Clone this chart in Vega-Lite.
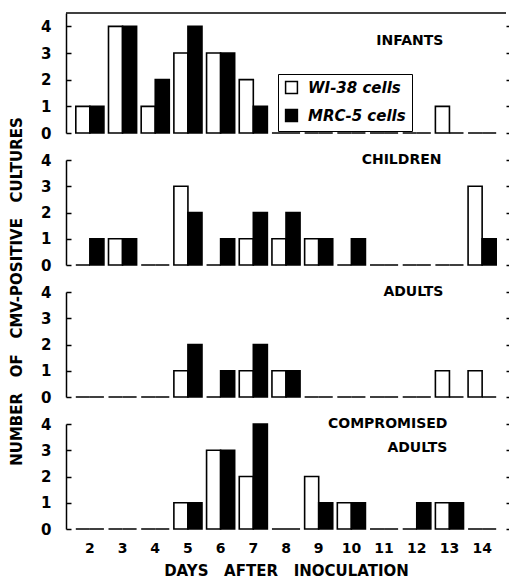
{
  "$schema": "https://vega.github.io/schema/vega-lite/v6.json",
  "padding": {"top": 12, "left": 8, "right": 0, "bottom": 2},
  "bounds": "flush",
  "spacing": 27,
  "config": {
    "font": "DejaVu Sans",
    "view": {"stroke": null},
    "axis": {"grid": false, "domainColor": "black", "tickColor": "black", "labelColor": "black", "titleColor": "black", "domainWidth": 1.5, "tickWidth": 1.5}
  },
  "datasets": {
    "cmv": [
      {"group": "Infants", "day": 2, "cell": "WI-38", "n": 1}, {"group": "Infants", "day": 2, "cell": "MRC-5", "n": 1},
      {"group": "Infants", "day": 3, "cell": "WI-38", "n": 4}, {"group": "Infants", "day": 3, "cell": "MRC-5", "n": 4},
      {"group": "Infants", "day": 4, "cell": "WI-38", "n": 1}, {"group": "Infants", "day": 4, "cell": "MRC-5", "n": 2},
      {"group": "Infants", "day": 5, "cell": "WI-38", "n": 3}, {"group": "Infants", "day": 5, "cell": "MRC-5", "n": 4},
      {"group": "Infants", "day": 6, "cell": "WI-38", "n": 3}, {"group": "Infants", "day": 6, "cell": "MRC-5", "n": 3},
      {"group": "Infants", "day": 7, "cell": "WI-38", "n": 2}, {"group": "Infants", "day": 7, "cell": "MRC-5", "n": 1},
      {"group": "Infants", "day": 8, "cell": "WI-38", "n": 0}, {"group": "Infants", "day": 8, "cell": "MRC-5", "n": 0},
      {"group": "Infants", "day": 9, "cell": "WI-38", "n": 0}, {"group": "Infants", "day": 9, "cell": "MRC-5", "n": 0},
      {"group": "Infants", "day": 10, "cell": "WI-38", "n": 0}, {"group": "Infants", "day": 10, "cell": "MRC-5", "n": 0},
      {"group": "Infants", "day": 11, "cell": "WI-38", "n": 0}, {"group": "Infants", "day": 11, "cell": "MRC-5", "n": 0},
      {"group": "Infants", "day": 12, "cell": "WI-38", "n": 0}, {"group": "Infants", "day": 12, "cell": "MRC-5", "n": 0},
      {"group": "Infants", "day": 13, "cell": "WI-38", "n": 1}, {"group": "Infants", "day": 13, "cell": "MRC-5", "n": 0},
      {"group": "Infants", "day": 14, "cell": "WI-38", "n": 0}, {"group": "Infants", "day": 14, "cell": "MRC-5", "n": 0},

      {"group": "Children", "day": 2, "cell": "WI-38", "n": 0}, {"group": "Children", "day": 2, "cell": "MRC-5", "n": 1},
      {"group": "Children", "day": 3, "cell": "WI-38", "n": 1}, {"group": "Children", "day": 3, "cell": "MRC-5", "n": 1},
      {"group": "Children", "day": 4, "cell": "WI-38", "n": 0}, {"group": "Children", "day": 4, "cell": "MRC-5", "n": 0},
      {"group": "Children", "day": 5, "cell": "WI-38", "n": 3}, {"group": "Children", "day": 5, "cell": "MRC-5", "n": 2},
      {"group": "Children", "day": 6, "cell": "WI-38", "n": 0}, {"group": "Children", "day": 6, "cell": "MRC-5", "n": 1},
      {"group": "Children", "day": 7, "cell": "WI-38", "n": 1}, {"group": "Children", "day": 7, "cell": "MRC-5", "n": 2},
      {"group": "Children", "day": 8, "cell": "WI-38", "n": 1}, {"group": "Children", "day": 8, "cell": "MRC-5", "n": 2},
      {"group": "Children", "day": 9, "cell": "WI-38", "n": 1}, {"group": "Children", "day": 9, "cell": "MRC-5", "n": 1},
      {"group": "Children", "day": 10, "cell": "WI-38", "n": 0}, {"group": "Children", "day": 10, "cell": "MRC-5", "n": 1},
      {"group": "Children", "day": 11, "cell": "WI-38", "n": 0}, {"group": "Children", "day": 11, "cell": "MRC-5", "n": 0},
      {"group": "Children", "day": 12, "cell": "WI-38", "n": 0}, {"group": "Children", "day": 12, "cell": "MRC-5", "n": 0},
      {"group": "Children", "day": 13, "cell": "WI-38", "n": 0}, {"group": "Children", "day": 13, "cell": "MRC-5", "n": 0},
      {"group": "Children", "day": 14, "cell": "WI-38", "n": 3}, {"group": "Children", "day": 14, "cell": "MRC-5", "n": 1},

      {"group": "Adults", "day": 2, "cell": "WI-38", "n": 0}, {"group": "Adults", "day": 2, "cell": "MRC-5", "n": 0},
      {"group": "Adults", "day": 3, "cell": "WI-38", "n": 0}, {"group": "Adults", "day": 3, "cell": "MRC-5", "n": 0},
      {"group": "Adults", "day": 4, "cell": "WI-38", "n": 0}, {"group": "Adults", "day": 4, "cell": "MRC-5", "n": 0},
      {"group": "Adults", "day": 5, "cell": "WI-38", "n": 1}, {"group": "Adults", "day": 5, "cell": "MRC-5", "n": 2},
      {"group": "Adults", "day": 6, "cell": "WI-38", "n": 0}, {"group": "Adults", "day": 6, "cell": "MRC-5", "n": 1},
      {"group": "Adults", "day": 7, "cell": "WI-38", "n": 1}, {"group": "Adults", "day": 7, "cell": "MRC-5", "n": 2},
      {"group": "Adults", "day": 8, "cell": "WI-38", "n": 1}, {"group": "Adults", "day": 8, "cell": "MRC-5", "n": 1},
      {"group": "Adults", "day": 9, "cell": "WI-38", "n": 0}, {"group": "Adults", "day": 9, "cell": "MRC-5", "n": 0},
      {"group": "Adults", "day": 10, "cell": "WI-38", "n": 0}, {"group": "Adults", "day": 10, "cell": "MRC-5", "n": 0},
      {"group": "Adults", "day": 11, "cell": "WI-38", "n": 0}, {"group": "Adults", "day": 11, "cell": "MRC-5", "n": 0},
      {"group": "Adults", "day": 12, "cell": "WI-38", "n": 0}, {"group": "Adults", "day": 12, "cell": "MRC-5", "n": 0},
      {"group": "Adults", "day": 13, "cell": "WI-38", "n": 1}, {"group": "Adults", "day": 13, "cell": "MRC-5", "n": 0},
      {"group": "Adults", "day": 14, "cell": "WI-38", "n": 1}, {"group": "Adults", "day": 14, "cell": "MRC-5", "n": 0},

      {"group": "Compromised", "day": 2, "cell": "WI-38", "n": 0}, {"group": "Compromised", "day": 2, "cell": "MRC-5", "n": 0},
      {"group": "Compromised", "day": 3, "cell": "WI-38", "n": 0}, {"group": "Compromised", "day": 3, "cell": "MRC-5", "n": 0},
      {"group": "Compromised", "day": 4, "cell": "WI-38", "n": 0}, {"group": "Compromised", "day": 4, "cell": "MRC-5", "n": 0},
      {"group": "Compromised", "day": 5, "cell": "WI-38", "n": 1}, {"group": "Compromised", "day": 5, "cell": "MRC-5", "n": 1},
      {"group": "Compromised", "day": 6, "cell": "WI-38", "n": 3}, {"group": "Compromised", "day": 6, "cell": "MRC-5", "n": 3},
      {"group": "Compromised", "day": 7, "cell": "WI-38", "n": 2}, {"group": "Compromised", "day": 7, "cell": "MRC-5", "n": 4},
      {"group": "Compromised", "day": 8, "cell": "WI-38", "n": 0}, {"group": "Compromised", "day": 8, "cell": "MRC-5", "n": 0},
      {"group": "Compromised", "day": 9, "cell": "WI-38", "n": 2}, {"group": "Compromised", "day": 9, "cell": "MRC-5", "n": 1},
      {"group": "Compromised", "day": 10, "cell": "WI-38", "n": 1}, {"group": "Compromised", "day": 10, "cell": "MRC-5", "n": 1},
      {"group": "Compromised", "day": 11, "cell": "WI-38", "n": 0}, {"group": "Compromised", "day": 11, "cell": "MRC-5", "n": 0},
      {"group": "Compromised", "day": 12, "cell": "WI-38", "n": 0}, {"group": "Compromised", "day": 12, "cell": "MRC-5", "n": 1},
      {"group": "Compromised", "day": 13, "cell": "WI-38", "n": 1}, {"group": "Compromised", "day": 13, "cell": "MRC-5", "n": 1},
      {"group": "Compromised", "day": 14, "cell": "WI-38", "n": 0}, {"group": "Compromised", "day": 14, "cell": "MRC-5", "n": 0}
    ]
  },
  "resolve": {"scale": {"fill": "independent"}},
  "vconcat": [
    {
      "width": 440, "height": 120,
      "resolve": {"axis": {"x": "independent", "y": "independent"}},
      "layer": [
        {
          "data": {"name": "cmv"},
          "transform": [{"filter": "datum.group === 'Infants'"}],
          "mark": {"type": "bar", "stroke": "black", "strokeWidth": 1.6},
          "encoding": {
            "x": {"field": "day", "type": "ordinal", "scale": {"paddingInner": 0.14, "paddingOuter": 0.3}, "axis": null},
            "xOffset": {"field": "cell", "sort": ["WI-38", "MRC-5"], "scale": {"paddingInner": 0}},
            "y": {"field": "n", "type": "quantitative", "scale": {"domain": [0, 4.5], "nice": false},
                  "axis": {"values": [0, 1, 2, 3, 4], "tickSize": -5, "labelPadding": 20, "labelFontSize": 15, "labelFontWeight": "bold", "title": null}},
            "fill": {"field": "cell", "type": "nominal", "scale": {"domain": ["WI-38", "MRC-5"], "range": ["white", "black"]},
                     "legend": {"orient": "none", "legendX": 212, "legendY": 61, "title": null,
                                "labelExpr": "datum.label + ' cells'",
                                "strokeColor": "black", "padding": 6, "rowPadding": 9,
                                "symbolType": "square", "symbolSize": 140, "symbolStrokeColor": "black", "symbolStrokeWidth": 1.5,
                                "labelFontSize": 15, "labelFontWeight": "bold", "labelFontStyle": "italic", "labelColor": "black", "labelOffset": 9}}
          }
        },
        {
          "data": {"name": "cmv"},
          "transform": [{"filter": "datum.group === 'Infants'"}],
          "mark": {"type": "tick", "opacity": 0},
          "encoding": {
            "x": {"field": "day", "type": "ordinal", "axis": null},
            "y": {"field": "n", "type": "quantitative", "axis": {"orient": "right", "values": [0, 1, 2, 3, 4], "domain": false, "labels": false, "tickSize": 3, "title": null}}
          }
        },
        {
          "data": {"values": [{"label": "INFANTS"}]},
          "mark": {"type": "text", "align": "right", "baseline": "middle", "dx": -6, "fontSize": 14, "fontWeight": "bold", "color": "black"},
          "encoding": {"x": {"datum": 13, "type": "ordinal", "axis": null}, "y": {"datum": 3.45, "type": "quantitative", "axis": null}, "text": {"field": "label"}}
        },
        {
          "data": {"values": [{"label": "top"}]},
          "mark": {"type": "rule", "strokeWidth": 1.5, "color": "black"},
          "encoding": {"y": {"datum": 4.5, "type": "quantitative", "axis": null}}
        }
      ]
    },
    {
      "width": 440, "height": 105,
      "resolve": {"axis": {"x": "independent", "y": "independent"}},
      "layer": [
        {
          "data": {"name": "cmv"},
          "transform": [{"filter": "datum.group === 'Children'"}],
          "mark": {"type": "bar", "stroke": "black", "strokeWidth": 1.6},
          "encoding": {
            "x": {"field": "day", "type": "ordinal", "scale": {"paddingInner": 0.14, "paddingOuter": 0.3}, "axis": null},
            "xOffset": {"field": "cell", "sort": ["WI-38", "MRC-5"], "scale": {"paddingInner": 0}},
            "y": {"field": "n", "type": "quantitative", "scale": {"domain": [0, 4], "nice": false},
                  "axis": {"values": [0, 1, 2, 3, 4], "tickSize": -5, "labelPadding": 20, "labelFontSize": 15, "labelFontWeight": "bold",
                           "title": "NUMBER\u00a0\u00a0\u00a0OF\u00a0\u00a0\u00a0CMV-POSITIVE\u00a0\u00a0\u00a0CULTURES", "titleFontSize": 15, "titleFontWeight": "bold",
                           "titleX": -50, "titleY": 131, "titleAlign": "center", "titleBaseline": "middle", "titleAngle": -90}},
            "fill": {"field": "cell", "type": "nominal", "scale": {"domain": ["WI-38", "MRC-5"], "range": ["white", "black"]}, "legend": null}
          }
        },
        {
          "data": {"name": "cmv"},
          "transform": [{"filter": "datum.group === 'Children'"}],
          "mark": {"type": "tick", "opacity": 0},
          "encoding": {
            "x": {"field": "day", "type": "ordinal", "axis": null},
            "y": {"field": "n", "type": "quantitative", "axis": {"orient": "right", "values": [0, 1, 2, 3, 4], "domain": false, "labels": false, "tickSize": 3, "title": null}}
          }
        },
        {
          "data": {"values": [{"label": "CHILDREN"}]},
          "mark": {"type": "text", "align": "right", "baseline": "middle", "dx": -8, "fontSize": 14, "fontWeight": "bold", "color": "black"},
          "encoding": {"x": {"datum": 13, "type": "ordinal", "axis": null}, "y": {"datum": 4, "type": "quantitative", "axis": null}, "text": {"field": "label"}}
        }
      ]
    },
    {
      "width": 440, "height": 105,
      "resolve": {"axis": {"x": "independent", "y": "independent"}},
      "layer": [
        {
          "data": {"name": "cmv"},
          "transform": [{"filter": "datum.group === 'Adults'"}],
          "mark": {"type": "bar", "stroke": "black", "strokeWidth": 1.6},
          "encoding": {
            "x": {"field": "day", "type": "ordinal", "scale": {"paddingInner": 0.14, "paddingOuter": 0.3}, "axis": null},
            "xOffset": {"field": "cell", "sort": ["WI-38", "MRC-5"], "scale": {"paddingInner": 0}},
            "y": {"field": "n", "type": "quantitative", "scale": {"domain": [0, 4], "nice": false},
                  "axis": {"values": [0, 1, 2, 3, 4], "tickSize": -5, "labelPadding": 20, "labelFontSize": 15, "labelFontWeight": "bold", "title": null}},
            "fill": {"field": "cell", "type": "nominal", "scale": {"domain": ["WI-38", "MRC-5"], "range": ["white", "black"]}, "legend": null}
          }
        },
        {
          "data": {"name": "cmv"},
          "transform": [{"filter": "datum.group === 'Adults'"}],
          "mark": {"type": "tick", "opacity": 0},
          "encoding": {
            "x": {"field": "day", "type": "ordinal", "axis": null},
            "y": {"field": "n", "type": "quantitative", "axis": {"orient": "right", "values": [0, 1, 2, 3, 4], "domain": false, "labels": false, "tickSize": 3, "title": null}}
          }
        },
        {
          "data": {"values": [{"label": "ADULTS"}]},
          "mark": {"type": "text", "align": "right", "baseline": "middle", "dx": -6, "fontSize": 14, "fontWeight": "bold", "color": "black"},
          "encoding": {"x": {"datum": 13, "type": "ordinal", "axis": null}, "y": {"datum": 4, "type": "quantitative", "axis": null}, "text": {"field": "label"}}
        }
      ]
    },
    {
      "width": 440, "height": 105,
      "resolve": {"axis": {"x": "independent", "y": "independent"}},
      "layer": [
        {
          "data": {"name": "cmv"},
          "transform": [{"filter": "datum.group === 'Compromised'"}],
          "mark": {"type": "bar", "stroke": "black", "strokeWidth": 1.6},
          "encoding": {
            "x": {"field": "day", "type": "ordinal", "scale": {"paddingInner": 0.14, "paddingOuter": 0.3},
                  "axis": {"labelAngle": 0, "ticks": false, "tickSize": 0, "domain": false, "labelPadding": 12, "labelFontSize": 14, "labelFontWeight": "bold",
                           "title": "DAYS\u00a0\u00a0\u00a0AFTER\u00a0\u00a0\u00a0INOCULATION", "titleFontSize": 15, "titleFontWeight": "bold", "titlePadding": 8}},
            "xOffset": {"field": "cell", "sort": ["WI-38", "MRC-5"], "scale": {"paddingInner": 0}},
            "y": {"field": "n", "type": "quantitative", "scale": {"domain": [0, 4], "nice": false},
                  "axis": {"values": [0, 1, 2, 3, 4], "tickSize": -5, "labelPadding": 20, "labelFontSize": 15, "labelFontWeight": "bold", "title": null}},
            "fill": {"field": "cell", "type": "nominal", "scale": {"domain": ["WI-38", "MRC-5"], "range": ["white", "black"]}, "legend": null}
          }
        },
        {
          "data": {"name": "cmv"},
          "transform": [{"filter": "datum.group === 'Compromised'"}],
          "mark": {"type": "tick", "opacity": 0},
          "encoding": {
            "x": {"field": "day", "type": "ordinal", "axis": null},
            "y": {"field": "n", "type": "quantitative", "axis": {"orient": "right", "values": [0, 1, 2, 3, 4], "domain": false, "labels": false, "tickSize": 3, "title": null}}
          }
        },
        {
          "data": {"values": [{"label": ["COMPROMISED", "ADULTS"]}]},
          "mark": {"type": "text", "align": "right", "baseline": "middle", "dx": -2, "lineHeight": 24, "fontSize": 14, "fontWeight": "bold", "color": "black"},
          "encoding": {"x": {"datum": 13, "type": "ordinal", "axis": null}, "y": {"datum": 4, "type": "quantitative", "axis": null}, "text": {"field": "label"}}
        }
      ]
    }
  ]
}
